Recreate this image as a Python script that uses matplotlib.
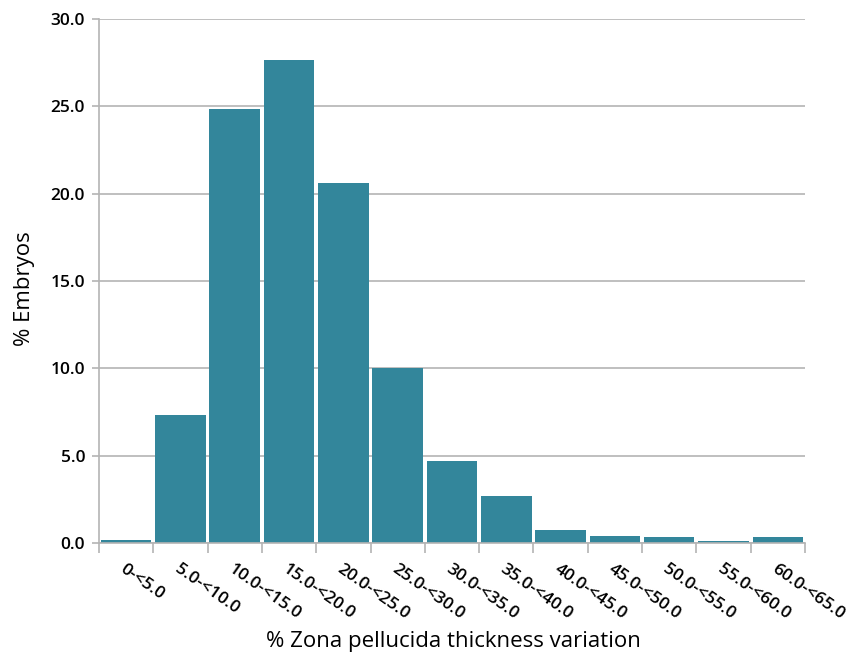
import matplotlib.pyplot as plt
import numpy as np

# Zona pellucida thickness variation histogram
BINS = ["0-<5.0", "5.0-<10.0", "10.0-<15.0", "15.0-<20.0", "20.0-<25.0",
        "25.0-<30.0", "30.0-<35.0", "35.0-<40.0", "40.0-<45.0", "45.0-<50.0",
        "50.0-<55.0", "55.0-<60.0", "60.0-<65.0"]
PCT_EMBRYOS = [0.15, 7.35, 24.85, 27.65, 20.6, 10.0, 4.7, 2.7, 0.75, 0.42, 0.35, 0.12, 0.35]
Y_TICKS = [0, 5, 10, 15, 20, 25, 30]

BAR_COLOR = "#33869b"
GRID_COLOR = "#b4b4b4"

plt.rcParams["font.family"] = ["Open Sans", "DejaVu Sans"]

fig = plt.figure(figsize=(8.62, 6.59), dpi=100)
ax = fig.add_axes([0.1148, 0.176, 0.8191, 0.7952])

x = np.arange(len(BINS))
ax.bar(x, PCT_EMBRYOS, width=0.93, color=BAR_COLOR, zorder=3)

ax.set_xlim(-0.5, len(BINS) - 0.5)
ax.set_ylim(0, 30)
ax.set_yticks(Y_TICKS)
ax.set_yticklabels([f"{v:.1f}" for v in Y_TICKS], fontsize=12.5, fontweight="semibold")
ax.yaxis.grid(True, color=GRID_COLOR, lw=1.2, zorder=0)

# major ticks at bin edges, labels at bin centres
ax.set_xticks(np.arange(len(BINS) + 1) - 0.5)
ax.set_xticklabels([])
ax.set_xticks(x, minor=True)
ax.set_xticklabels(BINS, minor=True, rotation=-35, ha="left", va="top",
                   rotation_mode="anchor", fontsize=12.5, fontweight="semibold")
ax.tick_params(axis="x", which="minor", length=0, pad=13)
ax.tick_params(axis="x", which="major", length=7, color=GRID_COLOR, width=1.2)
ax.tick_params(axis="y", length=5, color=GRID_COLOR, width=1.2, pad=5)

for s in ["top", "right"]:
    ax.spines[s].set_visible(False)
for s in ["left", "bottom"]:
    ax.spines[s].set_color(GRID_COLOR)
    ax.spines[s].set_linewidth(1.2)
    ax.spines[s].set_zorder(4)

fig.text(0.029, 0.5615, "% Embryos", fontsize=16, rotation=90,
         ha="center", va="center")
fig.text(0.5255, 0.026, "% Zona pellucida thickness variation", fontsize=16,
         ha="center", va="center")

fig.savefig("out.png", dpi=100)
